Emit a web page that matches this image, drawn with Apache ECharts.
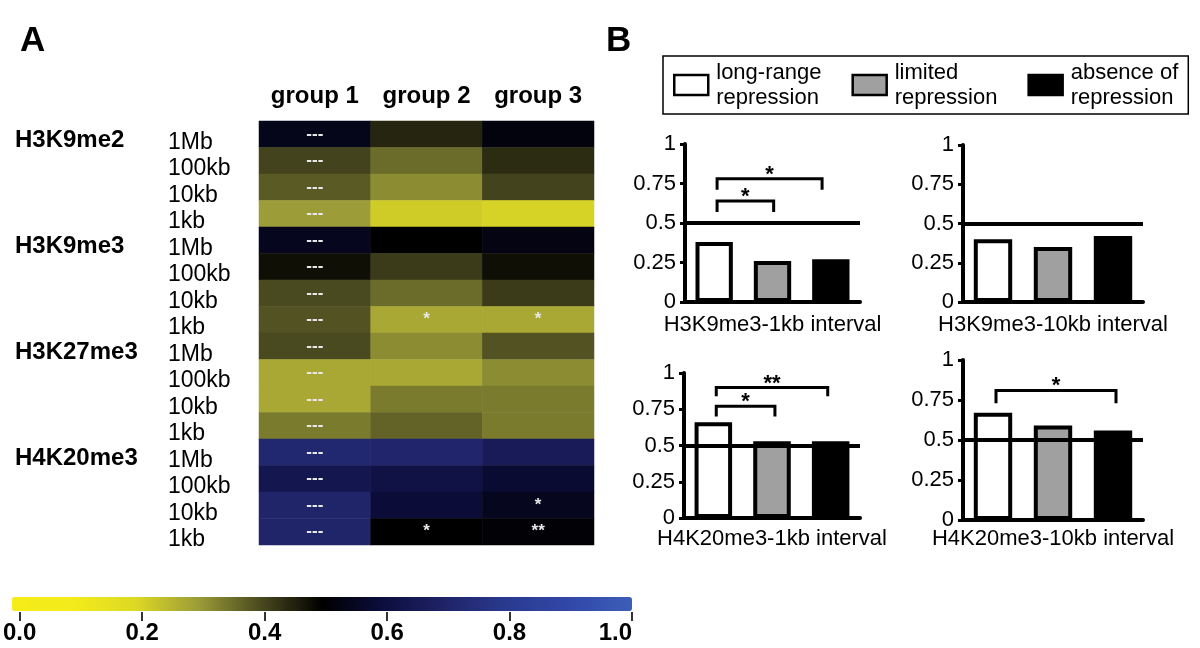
<!DOCTYPE html>
<html><head><meta charset="utf-8">
<script src="https://cdn.jsdelivr.net/npm/echarts@6/dist/echarts.min.js"></script>
<style>html,body{margin:0;padding:0;background:#fff}#c{width:1200px;height:648px}</style>
</head><body><div id="c"></div>
<script>
// ---------- Panel A data ----------
const groups = ['group 1', 'group 2', 'group 3'];
const marks = ['H3K9me2', 'H3K9me3', 'H3K27me3', 'H4K20me3'];
const windows = ['1Mb', '100kb', '10kb', '1kb'];
const group1Values = [0.54, 0.41, 0.38, 0.30, 0.55, 0.48, 0.40, 0.39, 0.40, 0.28, 0.28, 0.34, 0.72, 0.64, 0.70, 0.70];
const group2Values = [0.45, 0.36, 0.32, 0.22, 0.50, 0.42, 0.36, 0.28, 0.32, 0.28, 0.34, 0.37, 0.71, 0.62, 0.59, 0.50];
const group3Values = [0.52, 0.44, 0.41, 0.21, 0.53, 0.48, 0.42, 0.28, 0.39, 0.32, 0.34, 0.34, 0.66, 0.58, 0.55, 0.51];
const group1Signif = ['---','---','---','---','---','---','---','---','---','---','---','---','---','---','---','---'];
const group2Signif = ['','','','','','','','*','','','','','','','','*'];
const group3Signif = ['','','','','','','','*','','','','','','','*','**'];
const colorTicks = [0, 0.2, 0.4, 0.6, 0.8, 1.0];
const colorStops = ['#f5ec19','#f3eb1b','#dcd824','#9c9c38','#4a4a20','#000000','#0c0e3e','#202468','#2a3a90','#3148a8','#3c5db8'];

// ---------- Panel B data ----------
const legendNames = ['long-range\nrepression', 'limited\nrepression', 'absence of\nrepression'];
const barTicks = [0, 0.25, 0.5, 0.75, 1];
const panelTitles = ['H3K9me3-1kb interval', 'H3K9me3-10kb interval', 'H4K20me3-1kb interval', 'H4K20me3-10kb interval'];
const h3k9me3_1kb = [0.38, 0.26, 0.27];
const h3k9me3_10kb = [0.40, 0.35, 0.42];
const h4k20me3_1kb = [0.66, 0.53, 0.53];
const h4k20me3_10kb = [0.67, 0.59, 0.56];
const referenceLevel = 0.5;
// brackets: [fromX, toX, barLevel, leftLegEnd, rightLegEnd, label]
const brackets_h3k9me3_1kb = [[0.05, 1.02, 0.64, 0.57, 0.57, '*'], [0.05, 1.85, 0.78, 0.71, 0.71, '*']];
const brackets_h3k9me3_10kb = [];
const brackets_h4k20me3_1kb = [[0.05, 1.05, 0.77, 0.70, 0.70, '*'], [0.05, 1.95, 0.90, 0.84, 0.84, '**']];
const brackets_h4k20me3_10kb = [[0.05, 2.05, 0.81, 0.73, 0.73, '*']];

// ---------- build ----------
const FONT = 'Liberation Sans, Arial, sans-serif';
const rowNames = [];
marks.forEach(m => windows.forEach(w => rowNames.push(m + '|' + w)));
const groupValues = [group1Values, group2Values, group3Values];
const groupSignif = [group1Signif, group2Signif, group3Signif];
const heatData = [];
groupValues.forEach((vals, c) => vals.forEach((v, r) => heatData.push({value: [c, r, v], sig: groupSignif[c][r]})));

const panels = [
  {vals: h3k9me3_1kb, br: brackets_h3k9me3_1kb, grid: {left: 685, top: 144, width: 175, height: 158}, gap: 12},
  {vals: h3k9me3_10kb, br: brackets_h3k9me3_10kb, grid: {left: 963, top: 145, width: 180, height: 157}, gap: 12},
  {vals: h4k20me3_1kb, br: brackets_h4k20me3_1kb, grid: {left: 684, top: 373, width: 176, height: 145}, gap: 10},
  {vals: h4k20me3_10kb, br: brackets_h4k20me3_10kb, grid: {left: 963, top: 360, width: 180, height: 160}, gap: 8}
];
const barStyles = [
  {color: '#ffffff', borderColor: '#000', borderWidth: 4},
  {color: '#a0a0a0', borderColor: '#000', borderWidth: 4},
  {color: '#000000', borderColor: '#000', borderWidth: 4}
];

const grids = [{left: 259, top: 121, width: 335, height: 424}, {left: 12, top: 611, width: 620, height: 1}];
const xAxes = [
  {gridIndex: 0, type: 'category', data: groups, position: 'top', axisLine: {show: false}, axisTick: {show: false},
   axisLabel: {fontSize: 24, fontWeight: 'bold', color: '#000', margin: 13, interval: 0, hideOverlap: false}},
  {gridIndex: 1, type: 'value', min: 0, max: 1, interval: 0.2, axisLine: {show: false}, splitLine: {show: false},
   axisTick: {show: true, length: 9, lineStyle: {color: '#333', width: 2}},
   axisLabel: {fontSize: 24, fontWeight: 'bold', color: '#000', margin: 9, alignMaxLabel: 'right', formatter: v => v.toFixed(1)}}
];
const yAxes = [
  {gridIndex: 0, type: 'category', data: rowNames, inverse: true, axisLine: {show: false}, axisTick: {show: false},
   axisLabel: {align: 'left', verticalAlign: 'top', lineHeight: 16, margin: 91, fontSize: 23, color: '#000', interval: 0,
     formatter: v => v.split('|')[1]}},
  {gridIndex: 0, type: 'category', data: rowNames, inverse: true, position: 'left', axisLine: {show: false}, axisTick: {show: false},
   axisLabel: {align: 'left', verticalAlign: 'top', lineHeight: 12, margin: 244, fontSize: 24, fontWeight: 'bold', color: '#000', interval: 0,
     formatter: (v, i) => (i % 4 === 0 ? v.split('|')[0] : '')}},
  {gridIndex: 1, type: 'value', show: false}
];
const series = [{
  type: 'heatmap', xAxisIndex: 0, yAxisIndex: 0, data: heatData,
  label: {show: true, color: '#e8e8e8', fontSize: 17, fontWeight: 'bold', formatter: p => p.data.sig},
  emphasis: {disabled: true}
}];

panels.forEach((p, k) => {
  const gi = grids.length;
  grids.push(p.grid);
  const xCat = xAxes.length;
  xAxes.push({gridIndex: gi, type: 'category', data: [0, 1, 2], axisTick: {show: false}, axisLabel: {show: false},
    axisLine: {lineStyle: {color: '#000', width: 4}},
    name: panelTitles[k], nameLocation: 'middle', nameGap: p.gap,
    nameTextStyle: {fontSize: 22, color: '#000', fontFamily: FONT}});
  const xVal = xAxes.length;
  xAxes.push({gridIndex: gi, type: 'value', min: -0.5, max: 2.5, show: false});
  const yi = yAxes.length;
  yAxes.push({gridIndex: gi, type: 'value', min: 0, max: 1, interval: 0.25, splitLine: {show: false},
    axisLine: {show: true, onZero: false, lineStyle: {color: '#000', width: 4}},
    axisTick: {show: true, length: 5, lineStyle: {color: '#000', width: 3}},
    axisLabel: {fontSize: 22, color: '#000', margin: 9}});
  legendNames.forEach((nm, j) => {
    const d = [null, null, null];
    d[j] = p.vals[j];
    const s = {type: 'bar', name: nm, xAxisIndex: xCat, yAxisIndex: yi, data: d, barWidth: '64%', barGap: '-100%',
      itemStyle: barStyles[j], emphasis: {disabled: true}};
    if (j === 0) {
      s.markLine = {silent: true, symbol: ['none', 'none'], label: {show: false}, z: 10,
        lineStyle: {color: '#000', width: 4, type: 'solid'}, data: [{yAxis: referenceLevel}]};
    }
    series.push(s);
  });
  if (p.br.length) {
    const br = p.br;
    series.push({
      type: 'custom', xAxisIndex: xVal, yAxisIndex: yi, clip: false, z: 20,
      data: br.map(b => b.slice(0, 5)),
      renderItem: (params, api) => {
        const b = br[params.dataIndex];
        const p1 = api.coord([b[0], b[3]]), p2 = api.coord([b[0], b[2]]);
        const p3 = api.coord([b[1], b[2]]), p4 = api.coord([b[1], b[4]]);
        return {type: 'group', children: [
          {type: 'polyline', shape: {points: [p1, p2, p3, p4]}, style: {stroke: '#000', lineWidth: 3, fill: null}},
          {type: 'text', x: (p2[0] + p3[0]) / 2, y: p2[1] - 4,
           style: {text: b[5], fill: '#000', font: 'bold 22px ' + FONT, align: 'center', verticalAlign: 'middle'}}
        ]};
      }
    });
  }
});

const option = {
  animation: false,
  textStyle: {fontFamily: FONT},
  title: [
    {text: 'A', left: 20, top: 24, padding: 0, textStyle: {fontSize: 35, fontWeight: 'bold', color: '#000', fontFamily: FONT}},
    {text: 'B', left: 606, top: 24, padding: 0, textStyle: {fontSize: 35, fontWeight: 'bold', color: '#000', fontFamily: FONT}}
  ],
  legend: {data: legendNames, left: 663, top: 56, orient: 'horizontal', selectedMode: false, icon: 'rect',
    itemWidth: 34, itemHeight: 20, itemGap: 30, padding: [4, 10, 4, 10],
    borderColor: '#000', borderWidth: 1.5,
    itemStyle: {borderWidth: 2.5},
    textStyle: {fontSize: 22, lineHeight: 25, color: '#000', fontFamily: FONT, padding: [0, 0, 0, 3]}},
  visualMap: {type: 'continuous', min: 0, max: 1, seriesIndex: 0, orient: 'horizontal', left: 12, top: 597,
    itemWidth: 14, itemHeight: 620, calculable: false, padding: 0, text: null, showLabel: false,
    inRange: {color: colorStops}},
  grid: grids, xAxis: xAxes, yAxis: yAxes, series: series
};
const chart = echarts.init(document.getElementById('c'));
chart.setOption(option);
</script></body></html>
